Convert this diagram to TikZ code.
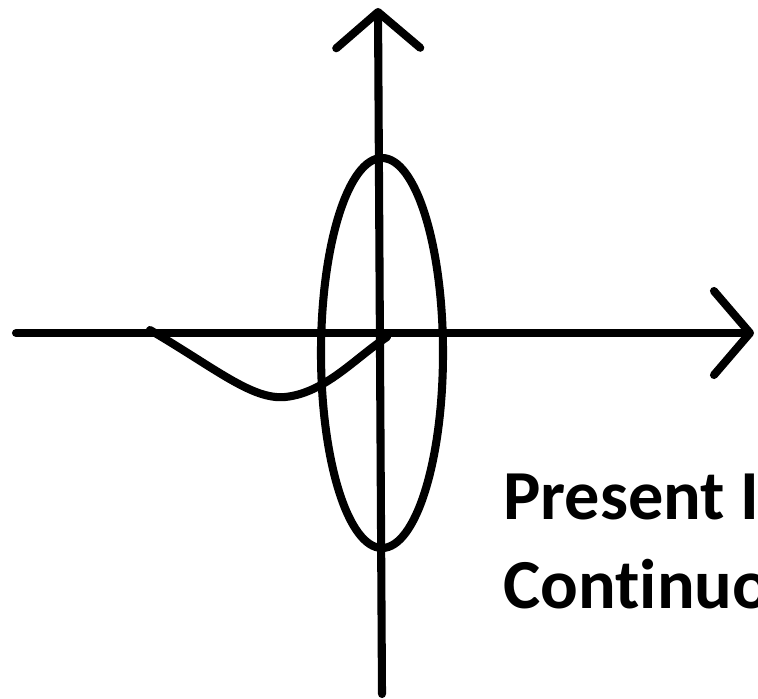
\documentclass[tikz,border=0pt]{standalone}
\usepackage{fontspec}
\setmainfont[Ligatures=NoCommon]{Carlito}
\definecolor{mInk}{HTML}{000000}
\usepackage{tikz}
\usetikzlibrary{positioning,arrows.meta,shapes.geometric}
\tikzset{
  pen/.style={draw=mInk, line width=4.6pt, line cap=round, line join=round},
  axisarrow/.style={pen, -{Straight Barb[length=0.72cm, width=1.68cm, line cap=round, line join=round]}},
  bigword/.style={anchor=base west, inner sep=0pt, font=\fontsize{40}{48}\selectfont\bfseries, text=mInk}
}
\begin{document}
\begin{tikzpicture}[x=0.02cm, y=-0.02cm]
\useasboundingbox (0,0) rectangle (758,698);
\clip (0,0) rectangle (758,698);
% axes
\coordinate (xL) at (16,333);
\coordinate (xR) at (754,333);
\coordinate (yB) at (382,694);
\coordinate (yT) at (378,8);
\draw[axisarrow] (xL) -- (xR);
\draw[axisarrow] (yB) -- (yT);
% the loop
\node[pen, ellipse, inner sep=0pt, minimum width=122*0.02cm, minimum height=390*0.02cm] (orbit) at (382,353) {};
% the dip
\coordinate (dipA) at (150,330);
\coordinate (dipLow) at (285,397);
\coordinate (dipB) at (387,337);
\draw[pen] (dipA) .. controls (215,368) and (252,400) .. (dipLow)
  .. controls (325,393) and (355,358) .. (dipB);
% text
\node[bigword] (presentTxt) at (503,519) {Present I};
\node[bigword] (contTxt) at (503,608) {Continuous};
\end{tikzpicture}
\end{document}
